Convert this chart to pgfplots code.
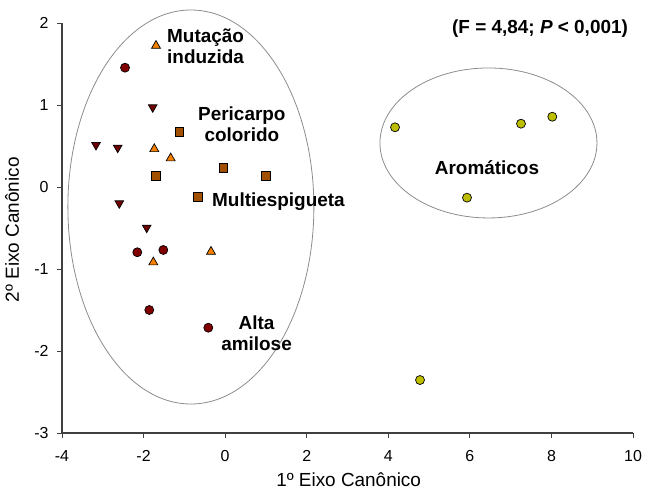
\documentclass[border=0pt]{standalone}
\usepackage{fontspec}
\setmainfont{Liberation Sans}
\usepackage{pgfplots}
\pgfplotsset{compat=1.18}
\definecolor{cred}{RGB}{128,0,0}
\definecolor{cinv}{RGB}{110,0,0}
\definecolor{corange}{RGB}{245,128,0}
\definecolor{cbrown}{RGB}{160,80,0}
\definecolor{cyel}{RGB}{190,190,0}
\begin{document}
\begin{tikzpicture}
\begin{axis}[name=ax, scale only axis, width=571bp, height=410bp,
  xmin=-4, xmax=10, ymin=-3, ymax=2,
  axis x line*=bottom, axis y line*=left,
  axis line style={-, black!75, line width=1.2bp},
  xtick={-4,-2,0,2,4,6,8,10}, ytick={-3,-2,-1,0,1,2},
  tick align=outside, major tick length=5bp,
  tick style={black!75, line width=0.9bp},
  every tick label/.append style={font=\fontsize{16}{18}\selectfont},
  xticklabel style={yshift=-9bp},
  yticklabel style={xshift=-5bp},
  /pgf/number format/assume math mode=true,
  xlabel={1º Eixo Canônico}, ylabel={2º Eixo Canônico},
  label style={font=\fontsize{19}{21}\selectfont},
  xlabel style={at={(axis description cs:0.502,-0.1146)}, anchor=center},
  ylabel style={at={(axis description cs:-0.0876,0.496)}, anchor=center},
  clip=false]
\draw[black!45, line width=0.8bp] (axis cs:-0.84,-0.244) ellipse [x radius=123bp, y radius=197bp];
\draw[black!45, line width=0.8bp] (axis cs:6.456,0.537) ellipse [x radius=108.5bp, y radius=75bp];
% dark red circles
\addplot[only marks, mark=*, mark size=4.5bp, mark options={fill=cred, draw=black, line width=0.7bp}] coordinates {
(-2.455,1.455) (-2.154,-0.796) (-1.516,-0.768) (-1.860,-1.500) (-0.413,-1.716)};
% inverted triangles
\addplot[only marks, mark=triangle*, mark size=5bp, mark options={rotate=180, fill=cinv, draw=black, line width=0.7bp}] coordinates {
(-1.776,0.972) (-3.166,0.512) (-2.634,0.479) (-2.595,-0.199) (-1.923,-0.496)};
% orange triangles
\addplot[only marks, mark=triangle*, mark size=5.2bp, mark options={fill=corange, draw=black, line width=0.7bp}] coordinates {
(-1.695,1.723) (-1.737,0.463) (-1.335,0.350) (-1.761,-0.918) (-0.347,-0.789)};
% brown squares
\addplot[only marks, mark=square*, mark size=4.3bp, mark options={fill=cbrown, draw=black, line width=0.7bp}] coordinates {
(-1.124,0.674) (-1.703,0.138) (-0.045,0.235) (0.994,0.138) (-0.673,-0.118)};
% yellow circles
\addplot[only marks, mark=*, mark size=4.5bp, mark options={fill=cyel, draw=black, line width=0.7bp}] coordinates {
(4.165,0.728) (7.254,0.772) (8.021,0.857) (5.930,-0.130) (4.778,-2.354)};
\begin{scope}[every node/.style={font=\fontsize{19}{21}\selectfont\bfseries, align=center, inner sep=0pt}]
\node at (axis cs:-0.48,1.72) {Mutação\\induzida};
\node at (axis cs:0.41,0.77) {Pericarpo\\colorido};
\node[anchor=base west] at (axis cs:-0.322,-0.232) {Multiespigueta};
\node at (axis cs:0.77,-1.78) {Alta\\amilose};
\node at (axis cs:6.42,0.232) {Aromáticos};
\node[anchor=east] at (axis cs:9.88,1.93) {(F = 4,84; \textit{P} < 0,001)};
\end{scope}
\end{axis}
\pgfresetboundingbox
\path[use as bounding box] ([xshift=-62bp,yshift=-61bp]ax.south west) rectangle ([xshift=13bp,yshift=23bp]ax.north east);
\end{tikzpicture}
\end{document}
